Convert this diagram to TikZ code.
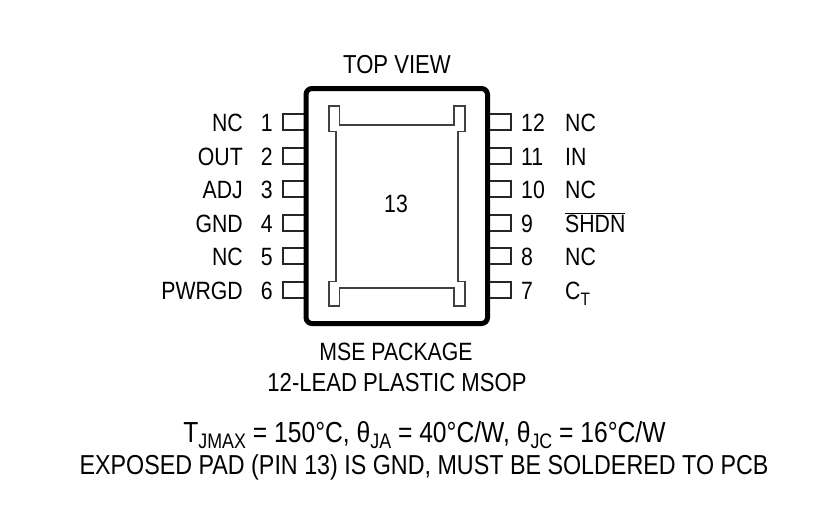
\documentclass[tikz,border=0pt]{standalone}
\usepackage{fontspec}
\setmainfont[FakeStretch=0.85]{Liberation Sans}
\tikzset{
  pinbox/.style={draw=black!85, line width=1.5pt},
  padline/.style={draw=black!75, line width=1.6pt, line join=miter},
  lbl/.style={font=\fontsize{25}{25}\selectfont, inner sep=0pt, text=black, anchor=base},
  pinname/.style={lbl, anchor=base east},
  pinname r/.style={lbl, anchor=base west}
}
\newcommand{\lowered}[2][18]{\raisebox{-0.22em}{\fontsize{#1}{#1}\selectfont #2}}
\begin{document}
\begin{tikzpicture}[x=1pt, y=-1pt]
  \useasboundingbox (0,0) rectangle (830,512);
  % leads on both sides
  \foreach \i/\y/\name/\num in {1/122/NC/1, 2/156/OUT/2, 3/189/ADJ/3, 4/223/GND/4, 5/256/NC/5, 6/290/PWRGD/6} {
    \draw[pinbox] (304,\y-8) -- (283,\y-8) -- (283,\y+8) -- (304,\y+8);
    \node[pinname] (N\i) at (243,\y+9.5) {\name};
    \node[pinname] (P\i) at (273,\y+9.5) {\num};
  }
  \foreach \i/\y/\name/\num in {12/122/NC/12, 11/156/IN/11, 10/189/NC/10, 9/223/{$\overline{\mbox{SHDN}}$}/9, 8/256/NC/8, 7/290/{C\lowered{T}}/7} {
    \draw[pinbox] (489,\y-8) -- (511,\y-8) -- (511,\y+8) -- (489,\y+8);
    \node[pinname r] (N\i) at (565,\y+9.5) {\name};
    \node[pinname r] (P\i) at (521,\y+9.5) {\num};
  }
  % package body
  \draw[line width=5pt, rounded corners=6pt, fill=white] (306,88.5) rectangle (487.5,323.5);
  % exposed pad
  \draw[padline] (336,131.5) -- (329,131.5) -- (329,106) -- (339.5,106) -- (339.5,125) -- (454,125)
    -- (454,106) -- (465,106) -- (465,131.5) -- (458,131.5) -- (458,281.5) -- (465,281.5) -- (465,306)
    -- (454,306) -- (454,288) -- (339.5,288) -- (339.5,306) -- (329,306) -- (329,281.5) -- (336,281.5) -- cycle;
  \node[lbl] (pad) at (396,212) {13};
  \node[lbl, font=\fontsize{26}{26}\selectfont] (top) at (397,73) {TOP VIEW};
  \node[lbl] (pkg) at (396,360) {MSE PACKAGE};
  \node[lbl, font=\fontsize{26}{26}\selectfont] (lead) at (397,391) {12-LEAD PLASTIC MSOP};
  \node[lbl, font=\fontsize{29}{29}\selectfont] (therm) at (424.5,442) {T\lowered[21]{JMAX} = 150°C, θ\lowered[21]{JA} = 40°C/W, θ\lowered[21]{JC} = 16°C/W};
  \node[lbl, font=\fontsize{27.4}{27.4}\selectfont] (note) at (424,474) {EXPOSED PAD (PIN 13) IS GND, MUST BE SOLDERED TO PCB};
\end{tikzpicture}
\end{document}
